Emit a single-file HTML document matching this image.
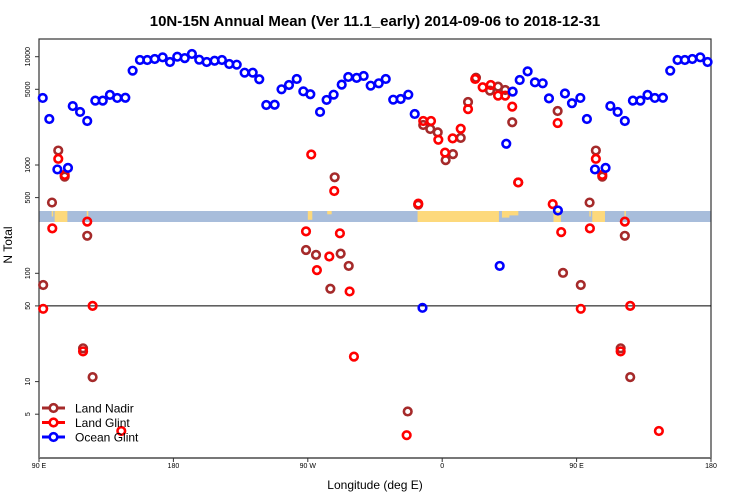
<!DOCTYPE html>
<html><head><meta charset="utf-8">
<style>
body{margin:0;background:#fff;}
svg{display:block;font-family:"Liberation Sans",sans-serif;}
</style></head>
<body>
<svg id="chart" width="750" height="500" viewBox="0 0 750 500" xmlns="http://www.w3.org/2000/svg">
<text x="375" y="26" text-anchor="middle" font-size="15" font-weight="bold">10N-15N Annual Mean (Ver 11.1_early)   2014-09-06 to 2018-12-31</text>
<text transform="translate(12,245) rotate(-90)" text-anchor="middle" font-size="12">N Total</text>
<text x="375" y="489" text-anchor="middle" font-size="12">Longitude (deg E)</text>
<g id="band"></g>
<g id="axes"></g>
<g id="marks"></g>
<g id="legend"></g>
</svg>
<script>
// ---- data ----
const xTickLabels = ["90 E","180","90 W","0","90 E","180"];
const xTickLons = [90,180,270,360,450,540];
const yTickValues = [5,10,50,100,500,1000,5000,10000];
const seriesNames = ["Land Nadir","Land Glint","Ocean Glint"];
const landNadirLon = [102.9,98.7,107.2,122.3,92.8,119.5,125.9,-74.9,-62.6,-23.1,80.9,-72.0,-91.2,-84.5,-68.0,-16.1,-12.7,-8.0,-3.0,2.3,7.2,12.4,17.3,22.6,32.0,37.4,42.2,46.9,50.9,77.3];
const landNadirVal = [1360,450,780,222,78,20.3,11,72,117,5.3,101,770,164,148,152,430,2340,2150,2000,1110,1260,1780,3820,6400,4860,5290,4930,2480,690,3150];
const landGlintLon = [102.9,98.9,122.3,107.2,-87.7,-72.3,-16.0,-12.7,-7.5,-2.6,1.9,7.0,12.4,17.3,22.1,27.1,32.5,37.4,42.2,46.9,50.9,77.3,74.0,79.7,92.8,125.9,119.5,145.1,-23.8,-91.2,-83.9,-75.6,-68.5,-62.0,-59.1];
const landGlintVal = [1140,260,300,810,1250,575,440,2550,2550,1710,1300,1760,2160,3280,6230,5220,5480,4370,4370,3460,690,2440,435,240,47,50,19,3.5,3.2,244,107,143,234,68,17];
const oceanGlintLon = [92.5,96.9,102.3,109.4,112.6,117.5,122.3,127.7,132.7,137.5,142.4,147.8,152.7,157.6,162.5,167.5,172.8,177.7,-177.4,-172.4,-167.6,-162.7,-157.7,-152.4,-147.5,-142.6,-137.6,-132.3,-126.9,-122.5,-117.8,-112.2,-107.6,-102.6,-97.4,-93.0,-88.3,-81.8,-77.4,-72.7,-67.3,-62.9,-57.3,-52.6,-47.9,-42.5,-37.8,-32.8,-27.8,-22.7,-18.4,-13.2,38.5,42.9,47.2,51.9,57.2,62.1,67.3,71.5,77.5,82.2,86.9];
const oceanGlintVal = [4160,2660,910,940,3500,3090,2550,3930,3930,4440,4160,4180,7430,9320,9320,9520,9870,8930,10000,9700,10600,9380,8930,9180,9320,8560,8440,7120,7120,6190,3580,3600,5000,5480,6230,4790,4500,3090,3990,4460,5520,6500,6370,6640,5400,5680,6230,4010,4070,4460,2960,48,117,1570,4760,6090,7320,5800,5680,4120,380,4570,3720];
const landRangesStart = [98.5,100.5,122,-90,-77,-16.5,40,43,74.5];
const landRangesEnd   = [99.5,109,123,-87,-74,38,45,51,79.5];
const landRangesFrac  = [0.5,1,0.5,0.8,0.3,1,0.6,0.4,1];

// ---- scales ----
const X0=39, X1=711, Y0=39, Y1=458;
function plotLon(l){return l<90? l+360 : l;}
function xs(p){return X0+(p-90)*(X1-X0)/450;}
function ys(v){return 56.7+(4-Math.log10(v))*108.3;}
const NS="http://www.w3.org/2000/svg";
function mk(tag,attrs,parent){const e=document.createElementNS(NS,tag);for(const k in attrs)e.setAttribute(k,attrs[k]);parent.appendChild(e);return e;}

// band
const band=document.getElementById('band');
const bg=mk('rect',{x:X0,y:211,width:X1-X0,height:11,fill:'#a8bddb'},band);


for(let i=0;i<landRangesStart.length;i++){
  let a=plotLon(landRangesStart[i]), b=plotLon(landRangesEnd[i]);
  if(b<a)b+=360;
  const segs=[[a,b]];
  if(a<180)segs.push([a+360,b+360]);
  const h=11*landRangesFrac[i];
  for(const s of segs){
    const r=mk('rect',{x:xs(s[0]),y:211,width:Math.max(1,xs(s[1])-xs(s[0])),height:h,fill:'#fdd97c'},band);
    
    
  }
}

// axes
const ax=document.getElementById('axes');
mk('rect',{x:X0,y:Y0,width:X1-X0,height:Y1-Y0,fill:'none',stroke:'#333',"stroke-width":1.2},ax);
mk('line',{x1:X0,x2:X1,y1:Y1,y2:Y1,stroke:'#777',"stroke-width":2},ax);
const l50=mk('line',{x1:X0,x2:X1,y1:ys(50),y2:ys(50),stroke:'#000',"stroke-width":1},ax);


xTickLons.forEach((p,i)=>{
  mk('line',{x1:xs(p),x2:xs(p),y1:Y1,y2:Y1+4,stroke:'#333'},ax);
  const t=mk('text',{x:xs(p),y:Y1+10,"text-anchor":"middle","font-size":7},ax);
  t.textContent=xTickLabels[i];
  
  
});
yTickValues.forEach(v=>{
  const y=ys(v);
  mk('line',{x1:X0-4,x2:X0,y1:y,y2:y,stroke:'#333'},ax);
  const t=mk('text',{transform:`translate(30,${y}) rotate(-90)`,"text-anchor":"middle","font-size":7},ax);
  t.textContent=String(v);
  
  
});

// marks
const marks=document.getElementById('marks');
const colors=['#a52a2a','#ff0000','#0000ff'];
const lons=[landNadirLon,landGlintLon,oceanGlintLon];
const vals=[landNadirVal,landGlintVal,oceanGlintVal];
const names=['land-nadir-point','land-glint-point','ocean-glint-point'];
for(let s=0;s<3;s++){
  for(let i=0;i<lons[s].length;i++){
    const p=plotLon(lons[s][i]);
    const ps=[p]; if(p<180) ps.push(p+360);
    for(const q of ps){
      const c=mk('circle',{cx:xs(q),cy:ys(vals[s][i]),r:3.8,fill:'none',stroke:colors[s],"stroke-width":2.6},marks);
      
      
    }
  }
}

// legend
const lg=document.getElementById('legend');
const ly=[408,422.5,437];
for(let s=0;s<3;s++){
  const g=mk('g',{},lg);
  
  
  mk('line',{x1:42,x2:65,y1:ly[s],y2:ly[s],stroke:colors[s],"stroke-width":3},g);
  mk('circle',{cx:53.5,cy:ly[s],r:3.8,fill:'#fff',stroke:colors[s],"stroke-width":2.6},g);
  const t=mk('text',{x:75,y:ly[s]+4.5,"font-size":12},g);
  t.textContent=seriesNames[s];
}
</script>
</body></html>
